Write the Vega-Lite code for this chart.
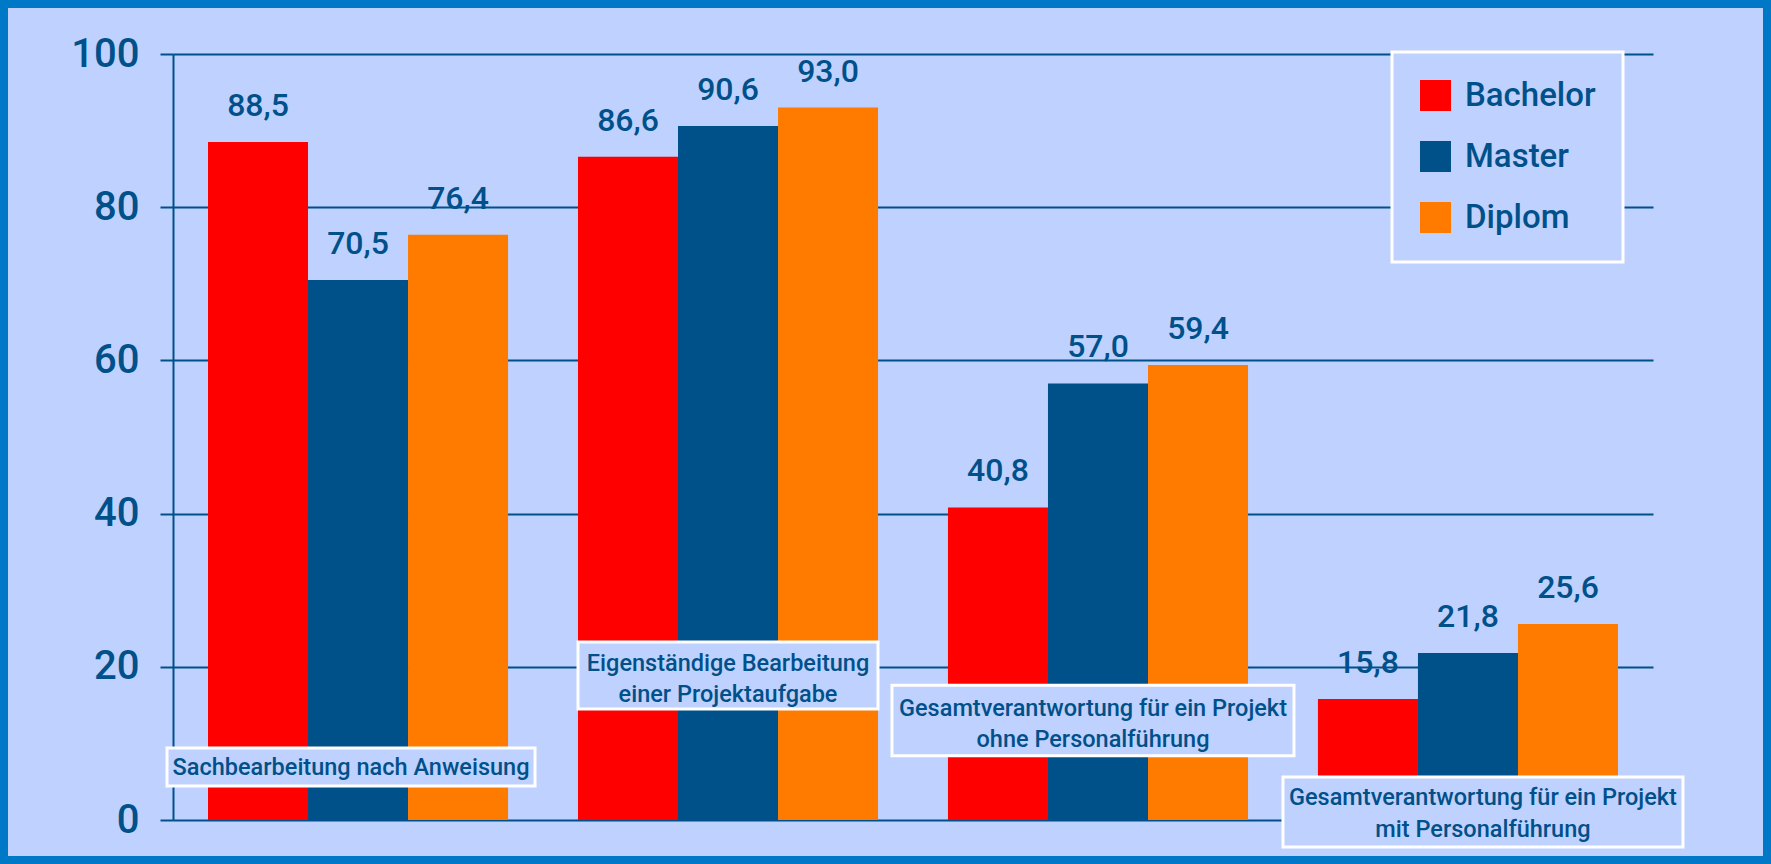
{
  "$schema": "https://vega.github.io/schema/vega-lite/v6.json",
  "width": 1771,
  "height": 864,
  "autosize": "none",
  "padding": 0,
  "background": "#BFD1FE",
  "config": {
    "view": {"fill": "#BFD1FE", "stroke": "#0078C8", "strokeWidth": 16},
    "font": "Roboto",
    "locale": {"number": {"decimal": ",", "thousands": ".", "grouping": [3], "currency": ["", " €"]}},
    "legend": {
      "orient": "none", "legendX": 1392, "legendY": 52,
      "fillColor": "#BFD1FE", "strokeColor": "#FFFFFF", "strokeWidth": 3,
      "padding": 27, "symbolType": "square", "symbolSize": 961, "symbolStrokeWidth": 0,
      "symbolOpacity": 1,
      "labelFont": "Roboto", "labelFontSize": 33, "labelFontWeight": 500,
      "labelColor": "#00508A", "rowPadding": 27, "labelOffset": 13, "labelLimit": 400
    }
  },
  "datasets": {
    "werte": [
      {"kategorie": "Sachbearbeitung nach Anweisung", "abschluss": "Bachelor", "anteil": 88.5},
      {"kategorie": "Sachbearbeitung nach Anweisung", "abschluss": "Master", "anteil": 70.5},
      {"kategorie": "Sachbearbeitung nach Anweisung", "abschluss": "Diplom", "anteil": 76.4},
      {"kategorie": "Eigenständige Bearbeitung einer Projektaufgabe", "abschluss": "Bachelor", "anteil": 86.6},
      {"kategorie": "Eigenständige Bearbeitung einer Projektaufgabe", "abschluss": "Master", "anteil": 90.6},
      {"kategorie": "Eigenständige Bearbeitung einer Projektaufgabe", "abschluss": "Diplom", "anteil": 93.0},
      {"kategorie": "Gesamtverantwortung für ein Projekt ohne Personalführung", "abschluss": "Bachelor", "anteil": 40.8},
      {"kategorie": "Gesamtverantwortung für ein Projekt ohne Personalführung", "abschluss": "Master", "anteil": 57.0},
      {"kategorie": "Gesamtverantwortung für ein Projekt ohne Personalführung", "abschluss": "Diplom", "anteil": 59.4},
      {"kategorie": "Gesamtverantwortung für ein Projekt mit Personalführung", "abschluss": "Bachelor", "anteil": 15.8},
      {"kategorie": "Gesamtverantwortung für ein Projekt mit Personalführung", "abschluss": "Master", "anteil": 21.8},
      {"kategorie": "Gesamtverantwortung für ein Projekt mit Personalführung", "abschluss": "Diplom", "anteil": 25.6}
    ],
    "kategorien": [
      {"kategorie": "Sachbearbeitung nach Anweisung", "text": "Sachbearbeitung nach Anweisung"},
      {"kategorie": "Eigenständige Bearbeitung einer Projektaufgabe", "text": "Eigenständige Bearbeitung\neiner Projektaufgabe"},
      {"kategorie": "Gesamtverantwortung für ein Projekt ohne Personalführung", "text": "Gesamtverantwortung für ein Projekt\nohne Personalführung"},
      {"kategorie": "Gesamtverantwortung für ein Projekt mit Personalführung", "text": "Gesamtverantwortung für ein Projekt\nmit Personalführung"}
    ]
  },
  "layer": [
    {
      "data": {"name": "werte"},
      "mark": {"type": "bar"},
      "encoding": {
        "x": {
          "field": "kategorie", "type": "nominal", "sort": null,
          "scale": {"range": [173, 1653], "paddingInner": 0.189, "paddingOuter": 0.0946},
          "axis": null
        },
        "xOffset": {
          "field": "abschluss", "type": "nominal", "sort": ["Bachelor", "Master", "Diplom"],
          "scale": {"paddingInner": 0, "paddingOuter": 0}
        },
        "y": {
          "field": "anteil", "type": "quantitative", "title": null,
          "scale": {"domain": [0, 100], "range": [820, 54], "nice": false, "zero": true},
          "axis": {
            "orient": "left", "offset": -173, "values": [0, 20, 40, 60, 80, 100],
            "grid": true, "gridColor": "#00508A", "gridWidth": 2, "gridOpacity": 1,
            "domainColor": "#00508A", "domainWidth": 2,
            "tickColor": "#00508A", "tickWidth": 2, "tickSize": 13,
            "labelFont": "Roboto", "labelFontSize": 40, "labelFontWeight": 500,
            "labelColor": "#00508A", "labelPadding": 21, "format": "d"
          }
        },
        "color": {
          "field": "abschluss", "type": "nominal", "sort": ["Bachelor", "Master", "Diplom"],
          "scale": {"range": ["#FF0000", "#00508A", "#FF7B00"]},
          "legend": {"title": null}
        }
      }
    },
    {
      "data": {"name": "werte"},
      "mark": {"type": "text", "dy": -26, "baseline": "alphabetic", "align": "center",
               "font": "Roboto", "fontSize": 32, "fontWeight": 500, "color": "#00508A"},
      "encoding": {
        "x": {"field": "kategorie", "type": "nominal", "sort": null},
        "xOffset": {"field": "abschluss", "type": "nominal", "sort": ["Bachelor", "Master", "Diplom"]},
        "y": {"field": "anteil", "type": "quantitative", "title": null},
        "text": {"field": "anteil", "type": "quantitative", "format": ".1f"}
      }
    },
    {
      "data": {"name": "kategorien"},
      "transform": [{"filter": {"field": "kategorie", "equal": "Sachbearbeitung nach Anweisung"}}],
      "layer": [
        {
          "mark": {"type": "bar", "width": 368, "xOffset": -7, "fill": "#BFD1FE", "stroke": "#FFFFFF", "strokeWidth": 3},
          "encoding": {
            "x": {"field": "kategorie", "type": "nominal", "sort": null},
            "y": {"datum": 9.4, "type": "quantitative", "title": null},
            "y2": {"datum": 4.44}
          }
        },
        {
          "mark": {"type": "text", "dx": -7, "align": "center", "baseline": "alphabetic", "lineBreak": "\n", "lineHeight": 32,
                   "font": "Roboto", "fontSize": 23.5, "fontWeight": 500, "color": "#00508A"},
          "encoding": {
            "x": {"field": "kategorie", "type": "nominal", "sort": null},
            "y": {"datum": 5.87, "type": "quantitative", "title": null},
            "text": {"field": "text"}
          }
        }
      ]
    },
    {
      "data": {"name": "kategorien"},
      "transform": [{"filter": {"field": "kategorie", "equal": "Eigenständige Bearbeitung einer Projektaufgabe"}}],
      "layer": [
        {
          "mark": {"type": "bar", "width": 300, "xOffset": 0, "fill": "#BFD1FE", "stroke": "#FFFFFF", "strokeWidth": 3},
          "encoding": {
            "x": {"field": "kategorie", "type": "nominal", "sort": null},
            "y": {"datum": 23.24, "type": "quantitative", "title": null},
            "y2": {"datum": 14.49}
          }
        },
        {
          "mark": {"type": "text", "dx": 0, "align": "center", "baseline": "alphabetic", "lineBreak": "\n", "lineHeight": 31,
                   "font": "Roboto", "fontSize": 23.5, "fontWeight": 500, "color": "#00508A"},
          "encoding": {
            "x": {"field": "kategorie", "type": "nominal", "sort": null},
            "y": {"datum": 19.45, "type": "quantitative", "title": null},
            "text": {"field": "text"}
          }
        }
      ]
    },
    {
      "data": {"name": "kategorien"},
      "transform": [{"filter": {"field": "kategorie", "equal": "Gesamtverantwortung für ein Projekt ohne Personalführung"}}],
      "layer": [
        {
          "mark": {"type": "bar", "width": 402, "xOffset": -5, "fill": "#BFD1FE", "stroke": "#FFFFFF", "strokeWidth": 3},
          "encoding": {
            "x": {"field": "kategorie", "type": "nominal", "sort": null},
            "y": {"datum": 17.6, "type": "quantitative", "title": null},
            "y2": {"datum": 8.4}
          }
        },
        {
          "mark": {"type": "text", "dx": -5, "align": "center", "baseline": "alphabetic", "lineBreak": "\n", "lineHeight": 31,
                   "font": "Roboto", "fontSize": 23.5, "fontWeight": 500, "color": "#00508A"},
          "encoding": {
            "x": {"field": "kategorie", "type": "nominal", "sort": null},
            "y": {"datum": 13.58, "type": "quantitative", "title": null},
            "text": {"field": "text"}
          }
        }
      ]
    },
    {
      "data": {"name": "kategorien"},
      "transform": [{"filter": {"field": "kategorie", "equal": "Gesamtverantwortung für ein Projekt mit Personalführung"}}],
      "layer": [
        {
          "mark": {"type": "bar", "width": 400, "xOffset": 15, "fill": "#BFD1FE", "stroke": "#FFFFFF", "strokeWidth": 3},
          "encoding": {
            "x": {"field": "kategorie", "type": "nominal", "sort": null},
            "y": {"datum": 5.61, "type": "quantitative", "title": null},
            "y2": {"datum": -3.52}
          }
        },
        {
          "mark": {"type": "text", "dx": 15, "align": "center", "baseline": "alphabetic", "lineBreak": "\n", "lineHeight": 32,
                   "font": "Roboto", "fontSize": 23.5, "fontWeight": 500, "color": "#00508A"},
          "encoding": {
            "x": {"field": "kategorie", "type": "nominal", "sort": null},
            "y": {"datum": 1.96, "type": "quantitative", "title": null},
            "text": {"field": "text"}
          }
        }
      ]
    }
  ]
}
